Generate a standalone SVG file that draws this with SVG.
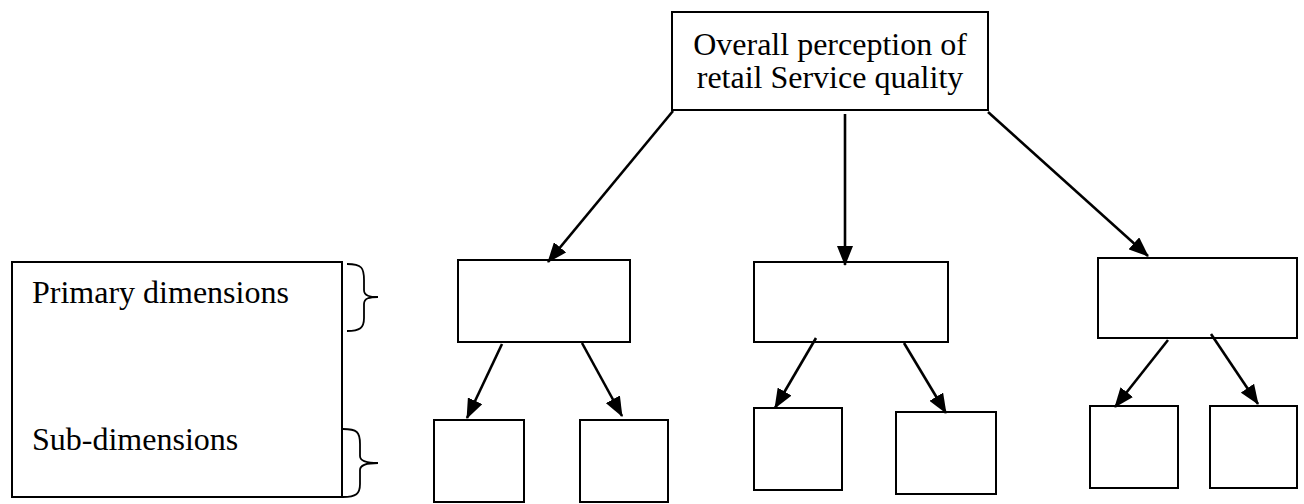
<svg xmlns="http://www.w3.org/2000/svg" width="1304" height="504" viewBox="0 0 1304 504">
  <style>
    .box { fill: #fff; stroke: #000; stroke-width: 2; }
    .link { stroke: #000; stroke-width: 2.6; fill: none; marker-end: url(#head); }
    .brace { stroke: #000; stroke-width: 1.8; fill: none; }
    .label { font-family: "Liberation Serif", "Times New Roman", serif; font-size: 32px; fill: #000; }
  </style>
  <defs>
    <marker id="head" markerUnits="userSpaceOnUse" markerWidth="20" markerHeight="16" viewBox="0 0 20 16" refX="19" refY="8" orient="auto">
      <path d="M0,0 L20,8 L0,16 Z" fill="#000"/>
    </marker>
  </defs>
  <rect width="1304" height="504" fill="#fff"/>

  <!-- legend panel with braces -->
  <g id="legend">
    <rect class="box" x="12" y="262" width="330" height="235"/>
    <text class="label" x="32" y="303">Primary dimensions</text>
    <text class="label" x="32" y="450">Sub-dimensions</text>
    <path class="brace" d="M347,264 C362,264 364,268 364,280 L364,290 C364,296 370,297 378,297 C370,297 364,298 364,304 L364,318 C364,328 360,331 347,331"/>
    <path class="brace" d="M343,429 C357,429 360,432 360,444 L360,456 C360,461 368,463 378,463 C368,463 360,465 360,470 L360,484 C360,494 356,497 343,497"/>
  </g>

  <!-- root -->
  <g id="root">
    <rect class="box" x="672" y="12" width="316" height="98"/>
    <text class="label" x="830" y="55" text-anchor="middle">Overall perception of</text>
    <text class="label" x="830" y="88" text-anchor="middle">retail Service quality</text>
  </g>

  <!-- primary dimensions -->
  <g id="primary-1"><rect class="box" x="458" y="260" width="172" height="82"/></g>
  <g id="primary-2"><rect class="box" x="754" y="262" width="194" height="80"/></g>
  <g id="primary-3"><rect class="box" x="1098" y="258" width="199" height="80"/></g>

  <!-- sub-dimensions -->
  <g id="sub-1a"><rect class="box" x="434" y="420" width="90" height="82"/></g>
  <g id="sub-1b"><rect class="box" x="580" y="420" width="88" height="82"/></g>
  <g id="sub-2a"><rect class="box" x="754" y="408" width="88" height="82"/></g>
  <g id="sub-2b"><rect class="box" x="896" y="412" width="100" height="82"/></g>
  <g id="sub-3a"><rect class="box" x="1090" y="406" width="88" height="82"/></g>
  <g id="sub-3b"><rect class="box" x="1210" y="406" width="87" height="82"/></g>

  <!-- connectors -->
  <g id="connectors">
    <line class="link" x1="673" y1="111" x2="548" y2="262"/>
    <line class="link" x1="845" y1="114" x2="845" y2="265"/>
    <line class="link" x1="988" y1="112" x2="1148" y2="256"/>
    <line class="link" x1="502" y1="344" x2="467" y2="418"/>
    <line class="link" x1="582" y1="343" x2="622" y2="416"/>
    <line class="link" x1="816" y1="338" x2="775" y2="408"/>
    <line class="link" x1="904" y1="343" x2="946" y2="413"/>
    <line class="link" x1="1168" y1="340" x2="1115" y2="407"/>
    <line class="link" x1="1211" y1="334" x2="1258" y2="404"/>
  </g>
</svg>
